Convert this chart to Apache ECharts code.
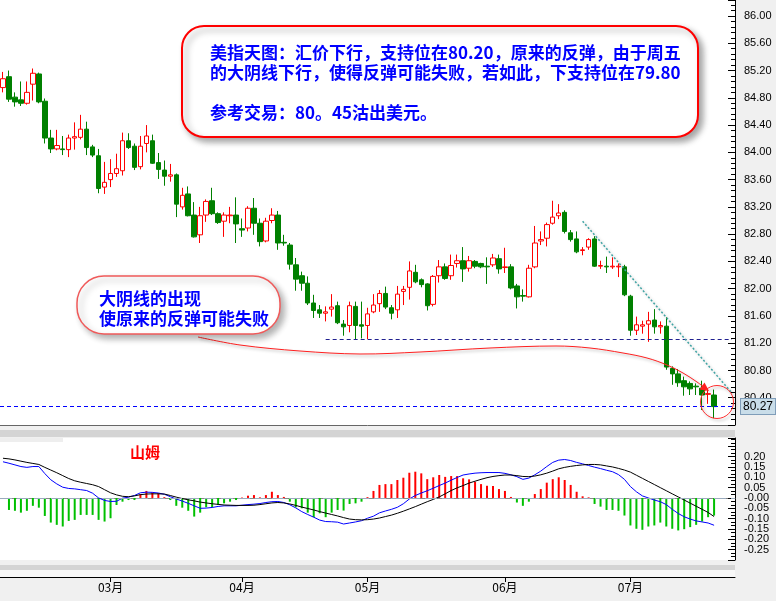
<!DOCTYPE html>
<html><head><meta charset="utf-8">
<script src="https://cdn.jsdelivr.net/npm/echarts@6/dist/echarts.min.js"></script>
<style>html,body{margin:0;padding:0;background:#f0f0f0}#c{width:776px;height:601px}</style>
</head><body><div id="c"></div><script>
// ---- data ----
const monthTicks = {18:'03月', 40:'04月', 61:'05月', 84:'06月', 105:'07月'};
const catCount = 123;
const openV = [84.95,85.11,84.81,84.77,84.72,85.00,85.15,84.75,84.21,84.05,84.05,84.04,84.21,84.22,84.34,84.08,83.95,83.49,83.60,83.69,83.73,84.17,84.09,83.79,84.13,84.17,83.85,83.74,83.65,83.67,83.20,83.39,83.08,82.79,83.08,83.29,83.10,82.99,83.07,83.08,82.88,82.89,83.18,82.96,82.70,83.00,83.08,82.68,82.64,82.35,82.19,82.08,81.79,81.69,81.64,81.70,81.75,81.48,81.46,81.74,81.47,81.46,81.66,81.78,81.93,81.72,81.69,81.96,82.02,82.24,82.13,82.07,81.77,82.19,82.32,82.19,82.37,82.41,82.30,82.40,82.37,82.33,82.35,82.44,82.31,82.32,82.04,81.90,81.88,82.32,82.70,82.74,82.96,83.07,83.12,82.82,82.73,82.56,82.61,82.73,82.33,82.33,82.32,82.32,82.32,81.89,81.39,81.45,81.48,81.54,81.44,81.45,80.83,80.75,80.65,80.61,80.57,80.54,80.45,80.44];
const closeV = [85.08,84.78,84.74,84.72,84.88,85.16,84.74,84.21,84.05,84.10,84.04,84.21,84.23,84.34,84.07,83.96,83.47,83.56,83.69,83.76,84.17,84.07,83.78,84.09,84.24,83.84,83.75,83.65,83.67,83.24,83.37,83.07,82.76,83.07,83.28,83.10,82.97,83.08,83.08,82.95,82.86,83.18,82.96,82.69,82.99,83.08,82.67,82.67,82.36,82.14,82.08,81.79,81.68,81.64,81.66,81.73,81.50,81.44,81.75,81.46,81.45,81.63,81.76,81.93,81.73,81.64,81.92,81.99,82.26,82.10,82.06,81.75,82.18,82.32,82.15,82.34,82.41,82.29,82.41,82.33,82.32,82.32,82.45,82.29,82.32,82.01,81.88,81.89,82.30,82.67,82.72,82.94,83.05,83.11,82.84,82.72,82.54,82.57,82.72,82.33,82.34,82.32,82.33,82.33,81.91,81.39,81.47,81.47,81.53,81.44,81.46,80.85,80.75,80.62,80.56,80.53,80.56,80.44,80.46,80.27];
const lowV = [84.88,84.74,84.67,84.68,84.70,84.76,84.72,84.13,83.99,84.03,83.96,83.93,84.04,84.19,83.96,83.93,83.40,83.39,83.49,83.64,83.66,84.05,83.74,83.75,84.00,83.83,83.61,83.51,83.57,83.05,83.16,83.06,82.75,82.67,82.98,83.08,82.95,82.76,82.96,82.67,82.76,82.84,82.79,82.62,82.68,82.96,82.57,82.63,82.28,81.97,81.97,81.76,81.57,81.57,81.52,81.59,81.48,81.31,81.36,81.26,81.27,81.26,81.64,81.66,81.70,81.55,81.57,81.76,81.84,82.08,82.02,81.68,81.74,82.09,82.13,82.13,82.31,82.10,82.25,82.30,82.30,82.07,82.32,82.22,82.23,81.99,81.71,81.81,81.87,82.30,82.64,82.62,82.94,83.02,82.81,82.69,82.52,82.49,82.57,82.32,82.29,82.23,82.29,82.17,81.89,81.31,81.32,81.34,81.22,81.34,81.34,80.81,80.59,80.56,80.43,80.44,80.44,80.22,80.31,80.10];
const highV = [85.18,85.20,84.88,85.04,85.04,85.23,85.17,84.79,84.33,84.33,84.24,84.26,84.44,84.55,84.45,84.11,84.05,83.86,83.90,83.98,84.29,84.28,84.13,84.24,84.40,84.26,83.99,83.88,83.83,83.69,83.48,83.50,83.27,83.20,83.31,83.48,83.12,83.12,83.20,83.34,83.03,83.21,83.33,83.03,83.04,83.18,83.14,82.79,82.67,82.45,82.25,82.18,81.91,81.76,81.74,81.92,81.81,81.54,81.81,81.81,81.81,81.72,81.92,81.98,82.03,81.76,82.04,82.04,82.40,82.35,82.15,82.08,82.20,82.42,82.37,82.50,82.50,82.61,82.48,82.42,82.38,82.46,82.51,82.50,82.60,82.36,82.07,81.99,82.35,82.92,82.84,82.97,83.29,83.24,83.15,82.86,82.84,82.61,82.74,82.77,82.41,82.47,82.46,82.37,82.35,81.91,81.59,81.53,81.66,81.70,81.52,81.58,80.86,80.82,80.71,80.64,80.61,80.65,80.54,80.52];
const macdHist = [null,-0.058,-0.062,-0.071,-0.062,-0.038,-0.047,-0.087,-0.119,-0.130,-0.138,-0.111,-0.106,-0.082,-0.082,-0.082,-0.106,-0.114,-0.098,-0.034,-0.018,-0.010,-0.010,0.019,0.034,0.027,0.023,0.004,-0.010,-0.038,-0.047,-0.062,-0.090,-0.071,-0.045,-0.045,-0.034,-0.026,-0.018,-0.010,0.002,0.011,0.014,0.003,0.014,0.030,0.014,0.005,-0.018,-0.045,-0.050,-0.071,-0.093,-0.074,-0.093,-0.071,-0.058,-0.061,-0.029,-0.026,-0.018,0.004,0.034,0.063,0.067,0.067,0.087,0.098,0.122,0.127,0.119,0.091,0.100,0.111,0.102,0.106,0.106,0.095,0.090,0.078,0.067,0.059,0.058,0.043,0.034,0.005,-0.022,-0.038,-0.018,0.019,0.043,0.074,0.091,0.100,0.087,0.063,0.030,0.008,0.003,-0.029,-0.042,-0.058,-0.058,-0.062,-0.085,-0.133,-0.149,-0.154,-0.138,-0.133,-0.119,-0.138,-0.149,-0.157,-0.151,-0.141,-0.130,-0.114,-0.093,-0.085];
const difV = [0.175,0.168,0.160,0.152,0.148,0.152,0.152,0.118,0.088,0.068,0.052,0.046,0.044,0.040,0.036,0.023,0.000,-0.012,-0.017,-0.016,-0.001,0.004,0.012,0.025,0.028,0.027,0.024,0.018,0.006,-0.005,-0.015,-0.026,-0.038,-0.050,-0.049,-0.046,-0.041,-0.038,-0.038,-0.038,-0.035,-0.032,-0.030,-0.027,-0.022,-0.018,-0.017,-0.022,-0.033,-0.048,-0.066,-0.080,-0.093,-0.107,-0.114,-0.115,-0.117,-0.126,-0.121,-0.116,-0.110,-0.098,-0.088,-0.072,-0.063,-0.055,-0.045,-0.028,-0.005,0.012,0.024,0.035,0.047,0.060,0.072,0.086,0.099,0.111,0.116,0.120,0.122,0.123,0.123,0.123,0.119,0.112,0.103,0.090,0.096,0.112,0.130,0.152,0.172,0.183,0.186,0.181,0.172,0.165,0.157,0.149,0.142,0.134,0.127,0.113,0.090,0.055,0.030,0.010,0.000,-0.010,-0.018,-0.032,-0.055,-0.075,-0.091,-0.102,-0.111,-0.116,-0.121,-0.132];
const deaV = [0.192,0.189,0.184,0.178,0.172,0.167,0.162,0.148,0.135,0.122,0.108,0.094,0.083,0.076,0.070,0.064,0.055,0.040,0.025,0.015,0.008,0.006,0.010,0.016,0.019,0.020,0.020,0.019,0.012,0.004,-0.003,-0.009,-0.014,-0.020,-0.024,-0.028,-0.031,-0.034,-0.035,-0.036,-0.036,-0.036,-0.035,-0.032,-0.028,-0.024,-0.022,-0.024,-0.029,-0.036,-0.044,-0.051,-0.058,-0.066,-0.073,-0.080,-0.087,-0.095,-0.102,-0.105,-0.106,-0.105,-0.102,-0.097,-0.090,-0.083,-0.074,-0.064,-0.053,-0.042,-0.030,-0.018,-0.007,0.005,0.020,0.036,0.049,0.060,0.072,0.081,0.090,0.098,0.104,0.108,0.111,0.111,0.108,0.104,0.103,0.106,0.112,0.120,0.130,0.141,0.148,0.153,0.157,0.160,0.162,0.162,0.160,0.155,0.150,0.143,0.135,0.125,0.110,0.095,0.080,0.065,0.050,0.035,0.020,0.005,-0.010,-0.025,-0.040,-0.055,-0.070,-0.090];
const lastClose = 80.27;
const supportLevel = 81.26;
const trendStart = [97, 82.99], trendEnd = [122, 80.47];
const noteMain = ['美指天图：汇价下行，支持位在80.20，原来的反弹，由于周五','的大阴线下行，使得反弹可能失败，若如此，下支持位在79.80','参考交易：80。45沽出美元。'];
const noteSmall = ['大阴线的出现','使原来的反弹可能失败'];
const panelTitle = '山姆';

// ---- build ----
const categories = Array.from({length: catCount}, (_, i) => 'd' + i);
const candles = openV.map((o, i) => [o, closeV[i], lowV[i], highV[i]]);
const cjk = '"Noto Sans CJK SC","Noto Sans CJK TC",sans-serif';
const axisFont = '"Liberation Sans", Arial, sans-serif';
const isMonth = (i) => monthTicks[i] !== undefined;
const noteFont = 'bold 17px ' + cjk;

const chart = echarts.init(document.getElementById('c'), null, {renderer: 'canvas'});
chart.setOption({
  animation: false,
  backgroundColor: '#f0f0f0',
  grid: [
    {left: -4.7, top: 0, width: 739.7, height: 425, show: true, backgroundColor: '#ffffff', borderWidth: 0},
    {left: -4.7, top: 438, width: 739.7, height: 122, show: true, backgroundColor: '#ffffff', borderWidth: 0}
  ],
  xAxis: [
    {type: 'category', gridIndex: 0, data: categories, boundaryGap: true,
     axisLine: {show: true, lineStyle: {color: '#666', width: 1}}, axisTick: {show: false}, axisLabel: {show: false}, splitLine: {show: false}},
    {type: 'category', gridIndex: 1, data: categories, boundaryGap: true,
     axisLine: {show: true, lineStyle: {color: '#888', width: 1}}, axisTick: {show: false}, axisLabel: {show: false}},
    {type: 'category', gridIndex: 1, data: categories, boundaryGap: true, position: 'bottom', offset: 17,
     axisLine: {show: true, lineStyle: {color: '#000', width: 1}},
     axisTick: {show: true, alignWithLabel: true, length: 5, lineStyle: {color: '#000'}, interval: (i) => isMonth(i)},
     axisLabel: {show: true, interval: (i) => isMonth(i), formatter: (v, i) => monthTicks[i] || '', color: '#000', fontSize: 12, fontFamily: cjk, margin: 4}}
  ],
  yAxis: [
    {type: 'value', gridIndex: 0, position: 'right', min: 80, max: 86.235, interval: 0.4, scale: true,
     axisLine: {show: true, lineStyle: {color: '#000'}},
     axisTick: {show: true, inside: true, length: 7, lineStyle: {color: '#000'}},
     minorTick: {show: true, splitNumber: 5, length: 4, lineStyle: {color: '#000'}},
     splitLine: {show: false},
     axisLabel: {show: true, showMinLabel: false, showMaxLabel: false, margin: 9, color: '#000', fontSize: 11, fontFamily: axisFont,
       formatter: (v) => v.toFixed(2)}},
    {type: 'value', gridIndex: 1, position: 'right', min: -0.30, max: 0.29, interval: 0.05,
     axisLine: {show: true, lineStyle: {color: '#000'}},
     axisTick: {show: true, inside: true, length: 7, lineStyle: {color: '#000'}},
     minorTick: {show: true, splitNumber: 3, length: 4, lineStyle: {color: '#000'}},
     splitLine: {show: false},
     axisLabel: {show: true, showMinLabel: false, showMaxLabel: false, margin: 9, color: '#000', fontSize: 11, fontFamily: axisFont,
       formatter: (v) => {
         if (v > 0.22 || v < -0.27) return '';
         if (Math.abs(v) < 1e-9) return '-0.00';
         return v.toFixed(2);
       }}}
  ],
  series: [
    {type: 'candlestick', xAxisIndex: 0, yAxisIndex: 0, data: candles, barWidth: 5,
     itemStyle: {color: '#ffffff', color0: '#008000', borderColor: '#ff0000', borderColor0: '#008000', borderWidth: 1},
     markLine: {silent: true, symbol: 'none', animation: false,
       data: [
         {yAxis: lastClose, lineStyle: {color: '#0000ff', type: [4, 3], width: 1},
          label: {show: true, position: 'end', formatter: lastClose.toFixed(2), backgroundColor: '#c9dde9', borderColor: '#7f9db9', borderWidth: 1,
                  padding: [2, 2, 1, 2], color: '#000', fontSize: 12, fontFamily: axisFont, distance: 6}},
         [{coord: [categories[54], supportLevel], lineStyle: {color: '#202090', type: [4, 3], width: 1}, label: {show: false}},
          {coord: [categories[122], supportLevel]}],
         [{coord: [categories[trendStart[0]], trendStart[1]], lineStyle: {color: '#3fa3a3', type: [2, 2], width: 1.5, shadowColor: 'rgba(0,0,0,0.25)', shadowBlur: 3, shadowOffsetX: 2, shadowOffsetY: 2}, label: {show: false}},
          {coord: [categories[trendEnd[0]], trendEnd[1]]}]
       ]}},
    {type: 'bar', name: 'MACD', xAxisIndex: 1, yAxisIndex: 1, data: macdHist, barWidth: 2,
     itemStyle: {color: (p) => p.value >= 0 ? '#ff0000' : '#00c000'},
     markLine: {silent: true, symbol: 'none', animation: false, label: {show: false},
       data: [{yAxis: 0, lineStyle: {color: '#9aabbd', type: [12, 5], width: 1}}]}},
    {type: 'line', name: 'DIF', xAxisIndex: 1, yAxisIndex: 1, data: difV, showSymbol: false, lineStyle: {color: '#0000ff', width: 1}, z: 3},
    {type: 'line', name: 'DEA', xAxisIndex: 1, yAxisIndex: 1, data: deaV, showSymbol: false, lineStyle: {color: '#000000', width: 1}, z: 3}
  ],
  graphic: [
    {type: 'rect', shape: {x: 0, y: 430, width: 735, height: 7}, style: {fill: '#d4d4d4'}, silent: true},
    {type: 'rect', shape: {x: 0, y: 565, width: 735, height: 5}, style: {fill: '#d4d4d4'}, silent: true},
    {type: 'rect', shape: {x: 0, y: 570, width: 735, height: 7}, style: {fill: '#f8f8f8'}, silent: true},
    {type: 'rect', shape: {x: 0, y: 438, width: 63, height: 4}, style: {fill: '#eeeeee'}, silent: true, z: 5},
    {type: 'text', x: 130, y: 452, style: {text: panelTitle, fill: '#ff0000', font: 'bold 15px ' + cjk, textVerticalAlign: 'middle'}, silent: true, z: 5},
    // annotation curve
    {type: 'polyline', silent: true, z: 40,
     shape: {points: [[198,337],[240,345],[300,351],[360,354],[420,352],[490,348],[556,346],[590,348],[623,353],[647,358],[667,365],[683,373],[697,382],[705,388]], smooth: 0.35},
     style: {stroke: '#ff2020', lineWidth: 1, fill: null, shadowColor: 'rgba(0,0,0,0.3)', shadowBlur: 3, shadowOffsetX: 2, shadowOffsetY: 2}},
    {type: 'polygon', silent: true, z: 40, shape: {points: [[709,391],[699.5,389.5],[704.5,382.5]]}, style: {fill: '#ff2020'}},
    {type: 'circle', silent: true, z: 40, shape: {cx: 717, cy: 402, r: 16.5},
     style: {stroke: '#ff3030', lineWidth: 1, fill: null, shadowColor: 'rgba(0,0,0,0.3)', shadowBlur: 3, shadowOffsetX: 2, shadowOffsetY: 2}},
    // big note box
    {type: 'rect', silent: true, z: 50, shape: {x: 182, y: 26, width: 516, height: 111, r: 22},
     style: {fill: '#ffffff', stroke: '#ff0000', lineWidth: 2, shadowColor: 'rgba(0,0,0,0.35)', shadowBlur: 6, shadowOffsetX: 4, shadowOffsetY: 4}},
    {type: 'text', silent: true, z: 51, x: 210, y: 53, style: {text: noteMain[0], fill: '#0000ff', font: noteFont, textVerticalAlign: 'middle'}},
    {type: 'text', silent: true, z: 51, x: 210, y: 73, style: {text: noteMain[1], fill: '#0000ff', font: noteFont, textVerticalAlign: 'middle'}},
    {type: 'text', silent: true, z: 51, x: 210, y: 113, style: {text: noteMain[2], fill: '#0000ff', font: noteFont, textVerticalAlign: 'middle'}},
    // small note box
    {type: 'rect', silent: true, z: 50, shape: {x: 77, y: 276, width: 203, height: 58, r: 27},
     style: {fill: '#ffffff', stroke: '#f05a5a', lineWidth: 1.5, shadowColor: 'rgba(0,0,0,0.3)', shadowBlur: 6, shadowOffsetX: 4, shadowOffsetY: 4}},
    {type: 'text', silent: true, z: 51, x: 99, y: 299, style: {text: noteSmall[0], fill: '#0000ff', font: noteFont, textVerticalAlign: 'middle'}},
    {type: 'text', silent: true, z: 51, x: 99, y: 319, style: {text: noteSmall[1], fill: '#0000ff', font: noteFont, textVerticalAlign: 'middle'}}
  ]
});
</script></body></html>
